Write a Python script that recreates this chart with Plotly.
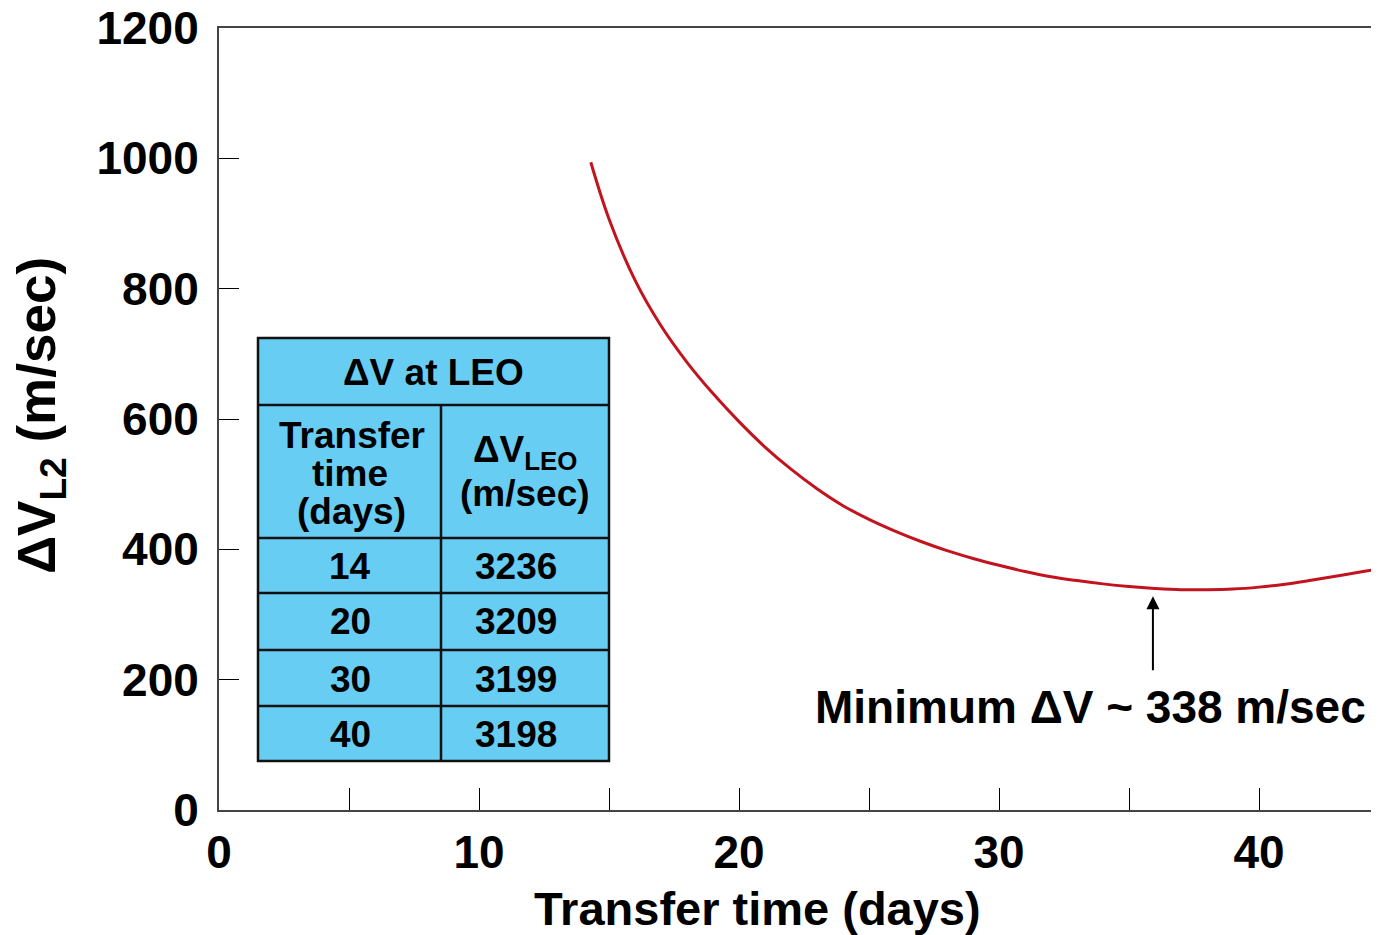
import plotly.graph_objects as go

# Curve data
days = [14.3, 15, 16, 17, 18, 19, 20, 21, 22, 23, 24, 25, 26, 27, 28, 29, 30,
        31, 32, 33, 34, 35, 36, 37, 38, 39, 40, 41, 42, 43, 44, 44.6]
dv_l2 = [994, 907, 813, 743, 687, 639, 596, 557, 523, 493, 467, 446, 428, 412, 398, 386, 375.5,
         366, 358, 352, 347, 343, 340, 338, 338, 339, 342, 346.5, 352.5, 359, 366, 370]

# Table data
table_days = ["14", "20", "30", "40"]
table_dv_leo = ["3236", "3209", "3199", "3198"]

x_ticks = [0, 5, 10, 15, 20, 25, 30, 35, 40]
x_ticktext = ["0", "", "10", "", "20", "", "30", "", "40"]
y_ticks = [0, 200, 400, 600, 800, 1000, 1200]

min_day = 35.92
min_val = 338

OFF = 8  # page body margin
W, H = 1379 - OFF, 935 - OFF
# plot area in page pixels: x 219..1379, y 28..810
L, R, T, B = 219 - OFF, 0, 28 - OFF, 935 - 810
PW, PH = W - L - R, H - T - B

def px(x):
    return (x - OFF - L) / PW

def py(y):
    return (H - B - (y - OFF)) / PH

FONT = "Liberation Sans, Arial, sans-serif"
BLUE = "#68CDF2"

fig = go.Figure()
fig.add_trace(go.Scatter(x=days, y=dv_l2, mode="lines",
                         line=dict(color="#C2141E", width=3, shape="spline", smoothing=1.0),
                         hoverinfo="skip", showlegend=False))

shapes = []
annotations = []

# Table
tx = [258, 441, 609]
ty = [338, 405, 538, 593, 650, 706, 761]
shapes.append(dict(type="rect", xref="paper", yref="paper", x0=px(tx[0]), x1=px(tx[2]),
                   y0=py(ty[0]), y1=py(ty[-1]), fillcolor=BLUE, line=dict(color="#111", width=2.5), layer="above"))
for yy in ty[1:-1]:
    shapes.append(dict(type="line", xref="paper", yref="paper", x0=px(tx[0]), x1=px(tx[2]),
                       y0=py(yy), y1=py(yy), line=dict(color="#111", width=2.5)))
shapes.append(dict(type="line", xref="paper", yref="paper", x0=px(tx[1]), x1=px(tx[1]),
                   y0=py(ty[1]), y1=py(ty[-1]), line=dict(color="#111", width=2.5)))

def txt(x, y, s, size=37, angle=0):
    annotations.append(dict(xref="paper", yref="paper", x=px(x), y=py(y), text=s, showarrow=False,
                            xanchor="center", yanchor="middle", textangle=angle,
                            font=dict(family=FONT, size=size, color="black", weight="bold")))

txt(433, 372, "ΔV at LEO")
txt(352, 435, "Transfer")
txt(350, 473, "time")
txt(351, 511, "(days)")
txt(525, 452, "ΔV<sub>LEO</sub>")
txt(525, 494, "(m/sec)")
row_c = [566, 621, 679, 734]
for i in range(4):
    txt(350, row_c[i], table_days[i])
    txt(516, row_c[i], table_dv_leo[i])

# Axis titles
txt(757, 908, "Transfer time (days)", size=47)
txt(40, 416, "ΔV<sub>L2</sub> (m/sec)", size=53, angle=-90)

# Minimum annotation
txt(1090, 707, "Minimum ΔV ~ 338 m/sec", size=46)
annotations.append(dict(x=min_day, y=min_val - 10, xref="x", yref="y", ax=min_day, ay=212,
                        axref="x", ayref="y", showarrow=True, arrowhead=2, arrowsize=1.3,
                        arrowwidth=2, arrowcolor="black", text=""))

fig.update_layout(
    width=W, height=H, margin=dict(l=L, r=R, t=T, b=B, autoexpand=False),
    paper_bgcolor="white", plot_bgcolor="white",
    shapes=shapes, annotations=annotations,
    xaxis=dict(range=[0, PW / 26], tickvals=x_ticks, ticktext=x_ticktext, ticks="inside", ticklen=22,
               tickwidth=1.2, tickcolor="black", showline=True, linecolor="#444", linewidth=2, mirror=True,
               showgrid=False, zeroline=False, ticklabelstandoff=1, ticklabeloverflow="allow",
               automargin=False,
               tickfont=dict(family=FONT, size=46, color="black", weight="bold")),
    yaxis=dict(range=[0, 1200], tickvals=y_ticks, ticks="inside", ticklen=20, tickwidth=1.2,
               tickcolor="black", showline=True, linecolor="#444", linewidth=2,
               showgrid=False, zeroline=False, ticklabelstandoff=9, ticklabeloverflow="allow",
               automargin=False,
               tickfont=dict(family=FONT, size=46, color="black", weight="bold")),
)

fig.write_html("out.html")
